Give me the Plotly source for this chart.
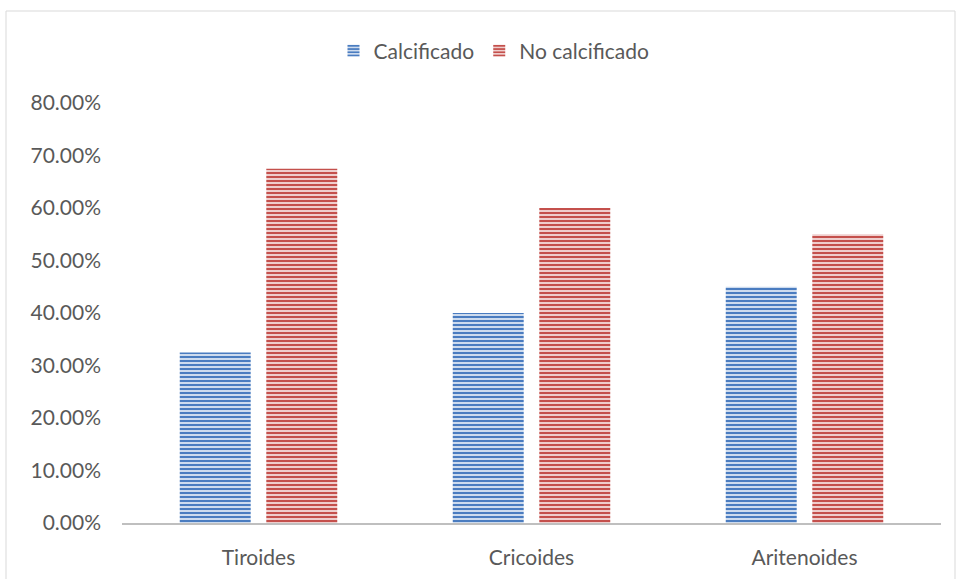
import plotly.graph_objects as go

categories = ["Tiroides", "Cricoides", "Aritenoides"]
calcificado = [0.325, 0.40, 0.45]
no_calcificado = [0.675, 0.60, 0.55]
y_ticks = [0, 0.1, 0.2, 0.3, 0.4, 0.5, 0.6, 0.7, 0.8]

W, H = 956, 579
ML, MR, MT, MB = 122, 15, 103, 56
pw, ph = W - ML - MR, H - MT - MB


def px_x(p):
    return (p - ML) / pw


def px_y(p):
    return (H - MB - p) / ph


fig = go.Figure()
fig.add_trace(go.Bar(
    name="Calcificado", x=categories, y=calcificado,
    marker=dict(color="#dce6f3", line=dict(width=0),
                pattern=dict(shape="-", fgcolor="#4a7cc0", fgopacity=1, size=4,
                             solidity=0.55, fillmode="overlay")),
))
fig.add_trace(go.Bar(
    name="No calcificado", x=categories, y=no_calcificado,
    marker=dict(color="#f4dcdb", line=dict(width=0),
                pattern=dict(shape="-", fgcolor="#c4504c", fgopacity=1, size=4,
                             solidity=0.55, fillmode="overlay")),
))

# outer chart frame
fig.add_shape(type="rect", xref="paper", yref="paper",
              x0=px_x(6), x1=px_x(955), y0=px_y(600), y1=px_y(11),
              line=dict(color="#d9d9d9", width=1), fillcolor="rgba(0,0,0,0)",
              layer="below")

font = dict(family="Lato, Liberation Sans, Arial, sans-serif", size=21, color="#595959")

fig.update_layout(
    width=W, height=H,
    margin=dict(l=ML, r=MR, t=MT, b=MB, autoexpand=False),
    paper_bgcolor="white", plot_bgcolor="white",
    barmode="group", bargap=0.366, bargroupgap=0.18,
    font=font,
    showlegend=True,
    legend=dict(orientation="h", x=px_x(494), xanchor="center",
                y=px_y(51), yanchor="middle", font=font,
                itemwidth=30, tracegroupgap=0),
    xaxis=dict(showline=True, linecolor="#bfbfbf", linewidth=2,
               showgrid=False, ticks="", tickfont=font, ticklabelstandoff=15),
    yaxis=dict(range=[0, 0.8], tickvals=y_ticks, tickformat=".2%",
               showgrid=False, zeroline=False, showline=False, ticks="",
               tickfont=font, ticklabelstandoff=20),
)

fig.write_html("out.html")
